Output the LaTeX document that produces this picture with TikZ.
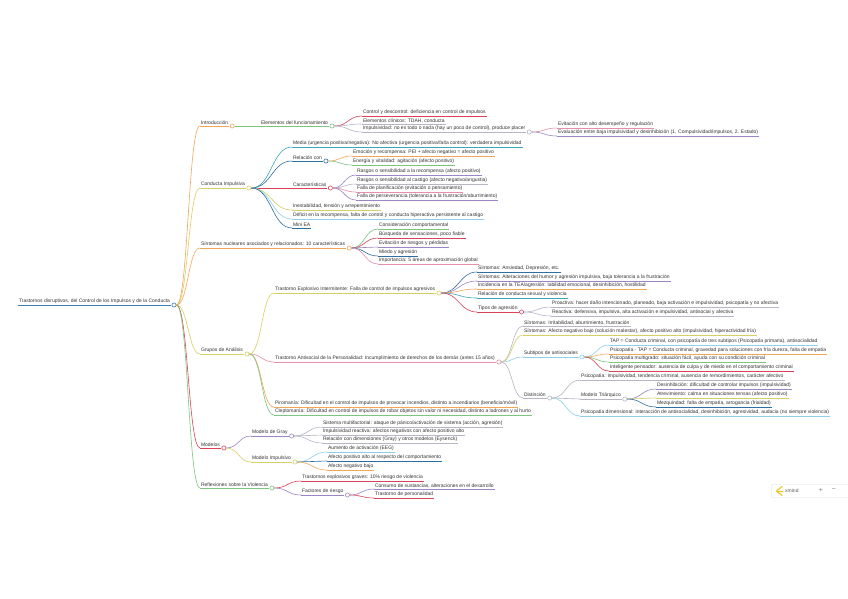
\documentclass[tikz,border=0pt]{standalone}
\usepackage{fontspec}
\setmainfont{Liberation Sans}
\usetikzlibrary{calc}
\definecolor{cOrange}{HTML}{F2A65A}
\definecolor{cYellow}{HTML}{D6CF63}
\definecolor{cGreen}{HTML}{7CC47F}
\definecolor{cRed}{HTML}{D9435A}
\definecolor{cBlue}{HTML}{2F6F9F}
\definecolor{cTeal}{HTML}{3AA6B9}
\definecolor{cLBlue}{HTML}{8FD0E8}
\definecolor{cPurple}{HTML}{9B86C2}
\definecolor{cPink}{HTML}{E58FA8}
\definecolor{cGray}{HTML}{B8B5C4}
\definecolor{cRoot}{HTML}{3C7DB5}
\definecolor{txt}{HTML}{333333}
\definecolor{cLogo}{HTML}{F2C318}
\newcommand\mmfont{\fontsize{5}{5.5}\selectfont}
\tikzset{
  lbl/.style={anchor=south west, inner xsep=0.8pt, inner ysep=0.9pt, font=\mmfont, text=txt},
  hub/.style={circle, draw=#1, fill=white, inner sep=0pt, minimum size=4.2pt, line width=0.6pt},
  uline/.style={draw=#1, line width=0.7pt},
  link/.style={draw=#1, line width=0.6pt},
}
% name, parent hub, x, y, colour, text
\newcommand\mmn[6]{%
  \node[lbl] (#1) at (#3,#4) {#6};
  \draw[uline=#5] (#1.south west) -- (#1.south east);
  \draw[link=#5] let \p1=(#2.east), \p2=(#1.south west) in
    (\p1) .. controls ({(\x1+\x2)/2},\y1) and ({(\x1+\x2)/2},\y2) .. (\p2);
}
\newcommand\mmhub[2]{\node[hub=#2, anchor=west] (#1h) at ([xshift=0.6pt]#1.south east) {};}
\begin{document}
\begin{tikzpicture}[x=1pt,y=-1pt]
\useasboundingbox (0,0) rectangle (848,599);
\fill[white] (0,0) rectangle (848,599);

% root
\node[lbl] (root) at (18,305) {Trastornos disruptivos, del Control de los Impulsos y de la Conducta};
\draw[uline=cRoot] (root.south west) -- (root.south east);
\mmhub{root}{cRoot}

% level 1
\mmn{intro}{rooth}{200}{126}{cOrange}{Introducción}
\mmn{cond}{rooth}{200}{188}{cYellow}{Conducta Impulsiva}
\mmn{sint}{rooth}{200}{248}{cOrange}{Síntomas nucleares asociados y relacionados: 10 características}
\mmn{grup}{rooth}{200}{354}{cYellow}{Grupos de Análisis}
\mmn{mod}{rooth}{200}{448}{cRed}{Modelos}
\mmn{refl}{rooth}{200}{488}{cGreen}{Reflexiones sobre la Violencia}
\mmhub{intro}{cOrange}
\mmhub{cond}{cYellow}
\mmhub{sint}{cOrange}
\mmhub{grup}{cYellow}
\mmhub{mod}{cRed}
\mmhub{refl}{cGreen}

% Introduccion
\mmn{elem}{introh}{260}{126}{cGreen}{Elementos del funcionamiento}
\mmhub{elem}{cGreen}
\mmn{ctrl}{elemh}{362}{116}{cRed}{Control y descontrol: deficiencia en control de impulsos}
\mmn{clin}{elemh}{362}{124}{cGray}{Elementos clínicos: TDAH, conducta}
\mmn{impu}{elemh}{362}{132}{cGray}{Impulsividad: no es todo o nada (hay un poco de control), produce placer}
\mmhub{impu}{cGray}
\mmn{evit}{impuh}{557}{128}{cPink}{Evitación con alto desempeño y regulación}
\mmn{eval}{impuh}{557}{136}{cPurple}{Evaluación entre baja impulsividad y desinhibición (1. Compulsividad/impulsos, 2. Estado)}

% Conducta impulsiva
\mmn{media}{condh}{292}{147}{cTeal}{Media (urgencia positiva/negativa): No afectiva (urgencia positiva/falta control): verdadera impulsividad}
\mmn{relac}{condh}{292}{161}{cBlue}{Relación con}
\mmhub{relac}{cBlue}
\mmn{emoc}{relach}{352}{156}{cOrange}{Emoción y recompensa: PEI + afecto negativo = afecto positivo}
\mmn{energ}{relach}{352}{165}{cGreen}{Energía y vitalidad: agitación (afecto positivo)}
\mmn{carac}{condh}{292}{188}{cRed}{Características}
\mmhub{carac}{cRed}
\mmn{ra}{carach}{356}{175}{cPurple}{Rasgos o sensibilidad a la recompensa (afecto positivo)}
\mmn{rb}{carach}{356}{184}{cGray}{Rasgos o sensibilidad al castigo (afecto negativo/angustia)}
\mmn{rc}{carach}{356}{192}{cPink}{Falla de planificación (evitación o pensamiento)}
\mmn{rd}{carach}{356}{200}{cPurple}{Falla de perseverancia (tolerancia a la frustración/aburrimiento)}
\mmn{inest}{condh}{292}{210}{cYellow}{Inestabilidad, tensión y arrepentimiento}
\mmn{defic}{condh}{292}{219}{cLBlue}{Déficit en la recompensa, falta de control y conducta hiperactiva persistente al castigo}
\mmn{mini}{condh}{292}{228}{cBlue}{Mini EA}

% Sintomas
\mmn{sa}{sinth}{378}{229}{cGreen}{Consideración comportamental}
\mmn{sb}{sinth}{378}{238}{cRed}{Búsqueda de sensaciones, poco fiable}
\mmn{sc}{sinth}{378}{247}{cPurple}{Evitación de riesgos y pérdidas}
\mmn{sd}{sinth}{378}{256}{cBlue}{Miedo y agresión}
\mmn{se}{sinth}{378}{264}{cPink}{Importancia: 5 áreas de aproximación global}

% Grupos de analisis
\mmn{tei}{gruph}{274}{293}{cYellow}{Trastorno Explosivo Intermitente: Falla de control de impulsos agresivos}
\mmhub{tei}{cYellow}
\mmn{ea}{teih}{477}{272}{cBlue}{Síntomas: Ansiedad, Depresión, etc.}
\mmn{eb}{teih}{477}{281}{cPurple}{Síntomas: Alteraciones del humor y agresión impulsiva, baja tolerancia a la frustración}
\mmn{ec}{teih}{477}{289}{cOrange}{Incidencia en la TEA/agresión: labilidad emocional, desinhibición, hostilidad}
\mmn{ed}{teih}{477}{298}{cTeal}{Relación de conducta sexual y violencia}
\mmn{tipos}{teih}{477}{312}{cRed}{Tipos de agresión}
\mmhub{tipos}{cRed}
\mmn{pro}{tiposh}{551}{307}{cGray}{Proactiva: hacer daño intencionado, planeado, baja activación e impulsividad, psicopatía y no afectiva}
\mmn{rea}{tiposh}{551}{316}{cGray}{Reactiva: defensiva, impulsiva, alta activación e impulsividad, antisocial y afectiva}

\mmn{tap}{gruph}{274}{362}{cPink}{Trastorno Antisocial de la Personalidad: Incumplimiento de derechos de los demás (antes 15 años)}
\mmhub{tap}{cPink}
\mmn{aa}{taph}{523}{326}{cGray}{Síntomas: Irritabilidad, aburrimiento, frustración}
\mmn{ab}{taph}{523}{335}{cYellow}{Síntomas: Afecto negativo bajo (solución malestar), afecto positivo alto (impulsividad, hiperactividad fría)}
\mmn{sub}{taph}{523}{357}{cLBlue}{Subtipos de antisociales}
\mmhub{sub}{cLBlue}
\mmn{ba}{subh}{609}{345}{cLBlue}{TAP = Conducta criminal, con psicopatía de tres subtipos (Psicopatía primaria), antisocialidad}
\mmn{bb}{subh}{609}{354}{cOrange}{Psicopatía - TAP = Conducta criminal, gravedad para soluciones con fría dureza, falta de empatía}
\mmn{bc}{subh}{609}{362}{cGreen}{Psicopatía multigrado: situación fácil, ayuda con su condición criminal}
\mmn{bd}{subh}{609}{371}{cRed}{Inteligente pensador: ausencia de culpa y de miedo en el comportamiento criminal}
\mmn{dist}{taph}{523}{398}{cGray}{Distinción}
\mmhub{dist}{cGray}
\mmn{pa}{disth}{580}{380}{cGray}{Psicopatía: Impulsividad, tendencia criminal, ausencia de remordimientos, carácter afectivo}
\mmn{tri}{disth}{580}{399}{cGray}{Modelo Triárquico}
\mmhub{tri}{cGray}
\mmn{ta}{trih}{656}{389}{cPurple}{Desinhibición: dificultad de controlar impulsos (impulsividad)}
\mmn{tb}{trih}{656}{398}{cYellow}{Atrevimiento: calma en situaciones tensas (afecto positivo)}
\mmn{tc}{trih}{656}{407}{cBlue}{Mezquindad: falta de empatía, arrogancia (frialdad)}
\mmn{pb}{disth}{580}{416}{cLBlue}{Psicopatía dimensional: interacción de antisocialidad, desinhibición, agresividad, audacia (no siempre violencia)}

\mmn{piro}{gruph}{274}{407}{cOrange}{Piromanía: Dificultad en el control de impulsos de provocar incendios, distinto a incendiarios (beneficio/móvil)}
\mmn{clep}{gruph}{274}{415}{cGreen}{Cleptomanía: Dificultad en control de impulsos de robar objetos sin valor ni necesidad, distinto a ladrones y al hurto}

% Modelos
\mmn{gray}{modh}{251}{436}{cPurple}{Modelo de Gray}
\mmhub{gray}{cPurple}
\mmn{ga}{grayh}{322}{427}{cGray}{Sistema multifactorial: ataque de pánico/activación de sistema (acción, agresión)}
\mmn{gb}{grayh}{322}{435}{cGray}{Impulsividad reactiva: afectos negativos con afecto positivo alto}
\mmn{gc}{grayh}{322}{443}{cGray}{Relación con dimensiones (Gray) y otros modelos (Eysenck)}
\mmn{imp}{modh}{251}{462}{cYellow}{Modelo Impulsivo}
\mmhub{imp}{cYellow}
\mmn{ia}{imph}{327}{452}{cLBlue}{Aumento de activación (EEG)}
\mmn{ib}{imph}{327}{461}{cBlue}{Afecto positivo alto al respecto del comportamiento}
\mmn{ic}{imph}{327}{470}{cOrange}{Afecto negativo bajo}

% Reflexiones
\mmn{te}{reflh}{301}{481}{cRed}{Trastornos explosivos graves: 10\% riesgo de violencia}
\mmn{fact}{reflh}{301}{495}{cPurple}{Factores de riesgo}
\mmhub{fact}{cPurple}
\mmn{fa}{facth}{374}{489}{cPurple}{Consumo de sustancias, alteraciones en el desarrollo}
\mmn{fb}{facth}{374}{498}{cRed}{Trastorno de personalidad}

% xmind widget
\node[draw=black!12, fill=white, rounded corners=2pt, minimum width=82pt, minimum height=13pt, anchor=west, inner sep=0pt] (widget) at (771,491) {};
\draw[cLogo, line width=1.1pt, line cap=round, line join=round] (782,486.5) -- (776.5,491) -- (782,495.5);
\draw[cLogo, line width=1pt, line cap=round] (777,491) -- (783,491);
\node[anchor=west, inner sep=0pt, font=\fontsize{5}{5}\selectfont, text=black!65] (wname) at (785,491) {xmind};
\node[inner sep=0pt, font=\fontsize{7}{7}\selectfont, text=black!50] (wplus) at (821,490.5) {+};
\node[inner sep=0pt, font=\fontsize{7}{7}\selectfont, text=black!50] (wminus) at (834,490.5) {−};
\end{tikzpicture}
\end{document}
